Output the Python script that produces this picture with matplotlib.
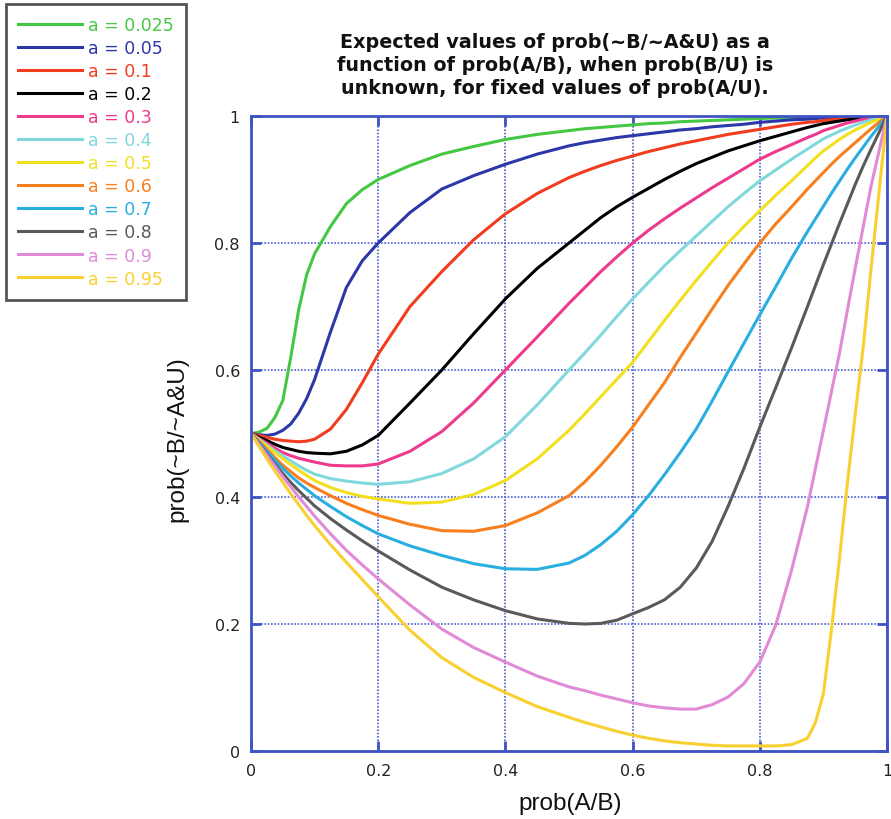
import matplotlib
matplotlib.use('Agg')
import matplotlib.pyplot as plt

# x grid: prob(A/B)
x = [0, 0.0125, 0.025, 0.0375, 0.05, 0.0625, 0.075, 0.0875, 0.1, 0.125, 0.15, 0.175, 0.2,
     0.25, 0.3, 0.35, 0.4, 0.45, 0.5, 0.525, 0.55, 0.575, 0.6, 0.625, 0.65, 0.675, 0.7, 0.725,
     0.75, 0.775, 0.8, 0.825, 0.85, 0.875, 0.8875, 0.9, 0.9125, 0.925, 0.9375, 0.95, 0.9625,
     0.975, 0.9875, 1.0]

labels = ['a = 0.025', 'a = 0.05', 'a = 0.1', 'a = 0.2', 'a = 0.3', 'a = 0.4',
          'a = 0.5', 'a = 0.6', 'a = 0.7', 'a = 0.8', 'a = 0.9', 'a = 0.95']

y_a0025 = [0.5, 0.502, 0.508, 0.525, 0.552, 0.62, 0.695, 0.75, 0.783, 0.826, 0.862, 0.884, 0.90,
           0.922, 0.94, 0.952, 0.963, 0.971, 0.977, 0.98, 0.982, 0.984, 0.986, 0.988, 0.989, 0.991, 0.992, 0.993,
           0.994, 0.995, 0.996, 0.997, 0.997, 0.998, 0.998, 0.998, 0.999, 0.999, 0.999, 0.999, 1.0,
           1.0, 1.0, 1.0]
y_a005 = [0.5, 0.498, 0.497, 0.499, 0.505, 0.515, 0.532, 0.555, 0.585, 0.66, 0.73, 0.772, 0.80,
          0.848, 0.885, 0.906, 0.924, 0.94, 0.953, 0.958, 0.962, 0.966, 0.969, 0.972, 0.975, 0.978, 0.98, 0.983,
          0.985, 0.987, 0.99, 0.992, 0.994, 0.995, 0.996, 0.997, 0.997, 0.998, 0.998, 0.999, 0.999,
          1.0, 1.0, 1.0]
y_a01 = [0.5, 0.497, 0.494, 0.491, 0.489, 0.488, 0.487, 0.488, 0.491, 0.507, 0.538, 0.58, 0.625,
         0.70, 0.755, 0.805, 0.846, 0.878, 0.903, 0.913, 0.922, 0.93, 0.937, 0.944, 0.95, 0.956, 0.961, 0.966,
         0.971, 0.975, 0.979, 0.983, 0.987, 0.99, 0.991, 0.993, 0.994, 0.995, 0.996, 0.997, 0.998,
         0.999, 1.0, 1.0]
y_a02 = [0.5, 0.494, 0.489, 0.483, 0.478, 0.475, 0.472, 0.47, 0.469, 0.468, 0.472, 0.482, 0.497,
         0.548, 0.60, 0.657, 0.712, 0.76, 0.80, 0.82, 0.84, 0.857, 0.872, 0.886, 0.90, 0.913, 0.925, 0.935,
         0.945, 0.953, 0.961, 0.968, 0.975, 0.982, 0.985, 0.988, 0.99, 0.992, 0.994, 0.995, 0.997,
         0.998, 0.999, 1.0]
y_a03 = [0.5, 0.492, 0.485, 0.477, 0.47, 0.465, 0.461, 0.458, 0.455, 0.45, 0.449, 0.449, 0.452,
         0.472, 0.503, 0.548, 0.60, 0.652, 0.705, 0.73, 0.755, 0.778, 0.80, 0.82, 0.838, 0.855, 0.871, 0.887,
         0.902, 0.917, 0.932, 0.944, 0.955, 0.966, 0.971, 0.977, 0.981, 0.985, 0.989, 0.992, 0.995,
         0.997, 0.999, 1.0]
y_a04 = [0.5, 0.491, 0.482, 0.473, 0.465, 0.457, 0.449, 0.442, 0.436, 0.429, 0.425, 0.422, 0.42,
         0.424, 0.437, 0.46, 0.495, 0.545, 0.60, 0.627, 0.655, 0.684, 0.712, 0.738, 0.764, 0.788, 0.811, 0.834,
         0.857, 0.878, 0.898, 0.915, 0.932, 0.948, 0.956, 0.964, 0.97, 0.976, 0.981, 0.986, 0.99,
         0.994, 0.997, 1.0]
y_a05 = [0.5, 0.49, 0.48, 0.47, 0.46, 0.451, 0.442, 0.434, 0.426, 0.415, 0.407, 0.401, 0.397,
         0.39, 0.392, 0.404, 0.426, 0.46, 0.505, 0.531, 0.558, 0.585, 0.612, 0.645, 0.678, 0.71, 0.741, 0.771,
         0.80, 0.826, 0.851, 0.875, 0.898, 0.922, 0.934, 0.945, 0.954, 0.963, 0.971, 0.978, 0.984,
         0.99, 0.995, 1.0]
y_a06 = [0.5, 0.488, 0.475, 0.462, 0.45, 0.44, 0.43, 0.422, 0.415, 0.402, 0.39, 0.38, 0.371,
         0.357, 0.347, 0.346, 0.355, 0.375, 0.402, 0.424, 0.45, 0.479, 0.51, 0.545, 0.58, 0.62, 0.658, 0.696,
         0.733, 0.767, 0.80, 0.83, 0.857, 0.885, 0.898, 0.911, 0.924, 0.936, 0.947, 0.958, 0.969,
         0.98, 0.99, 1.0]
y_a07 = [0.5, 0.486, 0.472, 0.458, 0.445, 0.433, 0.422, 0.412, 0.402, 0.385, 0.369, 0.355, 0.342,
         0.323, 0.308, 0.295, 0.287, 0.286, 0.296, 0.308, 0.325, 0.346, 0.372, 0.402, 0.435, 0.47, 0.507, 0.551,
         0.597, 0.642, 0.687, 0.731, 0.776, 0.818, 0.838, 0.858, 0.878, 0.897, 0.916, 0.934, 0.951,
         0.968, 0.984, 1.0]
y_a08 = [0.5, 0.484, 0.468, 0.452, 0.437, 0.423, 0.41, 0.398, 0.386, 0.366, 0.348, 0.331, 0.315,
         0.285, 0.258, 0.238, 0.221, 0.208, 0.201, 0.2, 0.201, 0.206, 0.216, 0.226, 0.238, 0.258, 0.288, 0.33,
         0.385, 0.445, 0.51, 0.572, 0.635, 0.70, 0.733, 0.766, 0.798, 0.83, 0.861, 0.892, 0.921,
         0.948, 0.974, 1.0]
y_a09 = [0.5, 0.483, 0.466, 0.449, 0.432, 0.416, 0.40, 0.385, 0.37, 0.342, 0.316, 0.293, 0.271,
         0.23, 0.192, 0.163, 0.14, 0.118, 0.101, 0.095, 0.088, 0.082, 0.076, 0.071, 0.068, 0.066, 0.066, 0.073,
         0.085, 0.106, 0.14, 0.198, 0.285, 0.385, 0.445, 0.505, 0.565, 0.625, 0.693, 0.76, 0.825,
         0.89, 0.945, 1.0]
y_a095 = [0.5, 0.48, 0.46, 0.441, 0.423, 0.405, 0.388, 0.371, 0.355, 0.325, 0.297, 0.27, 0.243,
          0.19, 0.147, 0.116, 0.092, 0.07, 0.053, 0.045, 0.038, 0.031, 0.025, 0.02, 0.016, 0.013, 0.011, 0.009,
          0.008, 0.008, 0.008, 0.008, 0.01, 0.02, 0.045, 0.09, 0.19, 0.30, 0.42, 0.53, 0.635,
          0.76, 0.88, 1.0]

series = [y_a0025, y_a005, y_a01, y_a02, y_a03, y_a04, y_a05, y_a06, y_a07, y_a08, y_a09, y_a095]
colors = ['#44c844', '#2c38a8', '#f23c1e', '#000000', '#ee3a8c', '#80d8dc',
          '#f2e020', '#f77f1e', '#2aaee0', '#5a5a5a', '#e08ad8', '#f8d030']

tick_vals = [0, 0.2, 0.4, 0.6, 0.8, 1.0]
tick_text = ['0', '0.2', '0.4', '0.6', '0.8', '1']

title = ('Expected values of prob(~B/~A&U) as a\n'
         'function of prob(A/B), when prob(B/U) is\n'
         'unknown, for fixed values of prob(A/U).')

blue = '#3f54c4'

fig = plt.figure(figsize=(8.91, 8.2), dpi=100)
ax = fig.add_axes([251 / 891, 1 - 752 / 820, 636 / 891, 635 / 820])

handles = []
for yv, col, lab in zip(series, colors, labels):
    h, = ax.plot(x, yv, color=col, lw=2.2, label=lab, solid_joinstyle='round')
    handles.append(h)

ax.set_xlim(0, 1)
ax.set_ylim(0, 1)
ax.set_xticks(tick_vals, tick_text)
ax.set_yticks(tick_vals, tick_text)
ax.grid(True, color='#4d5fd0', linestyle=(0, (1, 1)), lw=1.2)
for s in ax.spines.values():
    s.set_color(blue)
    s.set_linewidth(2)
ax.tick_params(direction='in', length=7, width=2, color=blue, top=True, right=True,
               labelsize=11.5, labelcolor='#222222')
ax.tick_params(axis='x', pad=9)
ax.tick_params(axis='y', pad=8)

ax.set_xlabel('prob(A/B)', fontfamily='Liberation Sans', fontsize=17.5, color='#111111')
ax.xaxis.set_label_coords(0.5016, -0.064)
ax.set_ylabel('prob(~B/~A&U)', fontfamily='Liberation Sans', fontsize=17.5, color='#111111')
ax.yaxis.set_label_coords(-0.098, 0.493)

fig.text(555 / 891, 1 - 65.5 / 820, title, ha='center', va='center', fontsize=13.8,
         fontweight='bold', linespacing=1.3, multialignment='center', color='#111111')

leg = fig.legend(handles, labels, loc='upper left', bbox_to_anchor=(6 / 891, 1 - 5 / 820),
                 bbox_transform=fig.transFigure, frameon=True, fancybox=False,
                 edgecolor='#555555', framealpha=1, fontsize=12.5, handlelength=3.7,
                 handletextpad=0.35, labelspacing=0.29, borderpad=0.7, borderaxespad=0,
                 labelcolor='linecolor')
leg.get_frame().set_linewidth(2)

fig.savefig('out.png', dpi=100)
